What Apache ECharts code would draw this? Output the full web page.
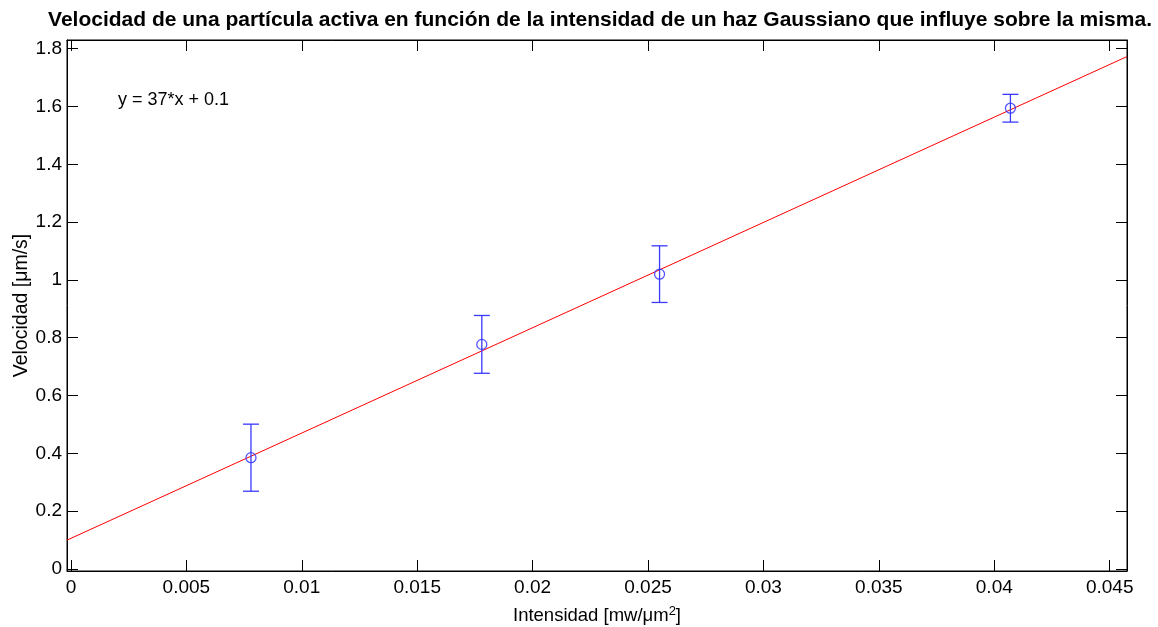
<!DOCTYPE html>
<html><head><meta charset="utf-8">
<script src="https://cdn.jsdelivr.net/npm/echarts@6/dist/echarts.min.js"></script>
<style>html,body{margin:0;padding:0;background:#fff}#c{width:1158px;height:627px}</style>
</head><body><div id="c"></div>
<script>
// Data
const intensidad = [0.0078, 0.0178, 0.0255, 0.0407];
const velocidad = [0.385, 0.777, 1.020, 1.594];
const errorV = [0.116, 0.100, 0.098, 0.048];
const fitSlope = 36.43;
const fitIntercept = 0.106;
const xRange = [-0.00017, 0.04575];
const yRange = [-0.007, 1.83];
const xTicks = [0, 0.005, 0.01, 0.015, 0.02, 0.025, 0.03, 0.035, 0.04, 0.045];
const yTicks = [0, 0.2, 0.4, 0.6, 0.8, 1, 1.2, 1.4, 1.6, 1.8];
const titleText = 'Velocidad de una partícula activa en función de la intensidad de un haz Gaussiano que influye sobre la misma.';
const fitLabel = 'y = 37*x + 0.1';

const FONT = '"Liberation Sans", Arial, sans-serif';
const fmt = v => String(+(+v).toFixed(4));

const points = intensidad.map((x, i) => [x, velocidad[i]]);
const errData = intensidad.map((x, i) => [x, velocidad[i] - errorV[i], velocidad[i] + errorV[i]]);
const fitData = xRange.map(x => [x, fitSlope * x + fitIntercept]);

const chart = echarts.init(document.getElementById('c'), null, {renderer: 'canvas'});
const axisCommon = {
  type: 'value',
  axisLine: {show: true, onZero: false, lineStyle: {color: '#000', width: 1}},
  splitLine: {show: false},
};
chart.setOption({
  animation: false,
  backgroundColor: '#fff',
  title: {
    text: titleText, left: 595, textAlign: 'center', top: 5,
    textStyle: {fontFamily: FONT, fontSize: 21, fontWeight: 'bold', color: '#000'}
  },
  grid: {left: 67, right: 31, top: 40, bottom: 56, show: true, borderColor: '#000', borderWidth: 1,
    backgroundColor: '#fff', containLabel: false, outerBoundsMode: 'none'},
  xAxis: [
    Object.assign({}, axisCommon, {
      position: 'bottom', min: xRange[0], max: xRange[1],
      name: 'Intensidad [mw/μm{sup|2}]', nameLocation: 'middle', nameGap: 34,
      nameTextStyle: {fontFamily: FONT, fontSize: 18.5, color: '#000', verticalAlign: 'top',
        rich: {sup: {fontFamily: FONT, fontSize: 13, verticalAlign: 'bottom', padding: [0, 0, 9, 0], color: '#000'}}},
      axisTick: {show: true, inside: true, length: 11, customValues: xTicks, lineStyle: {color: '#000'}},
      axisLabel: {show: true, customValues: xTicks, formatter: fmt, margin: 7, fontFamily: FONT, fontSize: 19, color: '#000'}
    }),
    Object.assign({}, axisCommon, {
      position: 'top', min: xRange[0], max: xRange[1],
      axisTick: {show: true, inside: true, length: 11, customValues: xTicks, lineStyle: {color: '#000'}},
      axisLabel: {show: false}
    })
  ],
  yAxis: [
    Object.assign({}, axisCommon, {
      position: 'left', min: yRange[0], max: yRange[1],
      name: 'Velocidad [μm/s]', nameLocation: 'middle', nameGap: 35, nameMoveOverlap: false,
      nameTextStyle: {fontFamily: FONT, fontSize: 19.5, color: '#000'},
      axisTick: {show: true, inside: true, length: 11, customValues: yTicks, lineStyle: {color: '#000'}},
      axisLabel: {show: true, customValues: yTicks, formatter: fmt, margin: 5, fontFamily: FONT, fontSize: 19, color: '#000'}
    }),
    Object.assign({}, axisCommon, {
      position: 'right', min: yRange[0], max: yRange[1],
      axisTick: {show: true, inside: true, length: 11, customValues: yTicks, lineStyle: {color: '#000'}},
      axisLabel: {show: false}
    })
  ],
  series: [
    {
      type: 'line', data: fitData, showSymbol: false, symbol: 'none',
      lineStyle: {color: '#ff0000', width: 1}, z: 3, silent: true
    },
    {
      type: 'custom', data: errData, z: 4, silent: true,
      renderItem: function (params, api) {
        const x = api.value(0);
        const lo = api.coord([x, api.value(1)]);
        const hi = api.coord([x, api.value(2)]);
        const hw = 8;
        const style = {stroke: '#3a3aff', lineWidth: 1.3};
        return {type: 'group', children: [
          {type: 'line', shape: {x1: lo[0], y1: lo[1], x2: hi[0], y2: hi[1]}, style: style},
          {type: 'line', shape: {x1: lo[0] - hw, y1: lo[1], x2: lo[0] + hw, y2: lo[1]}, style: style},
          {type: 'line', shape: {x1: hi[0] - hw, y1: hi[1], x2: hi[0] + hw, y2: hi[1]}, style: style}
        ]};
      }
    },
    {
      type: 'scatter', data: points, symbol: 'circle', symbolSize: 10, z: 5,
      itemStyle: {color: 'rgba(0,0,0,0)', borderColor: '#2a2aff', borderWidth: 1.3}
    }
  ],
  graphic: [
    {type: 'text', left: 118, top: 91, style: {text: fitLabel, fontFamily: FONT, fontSize: 18, fill: '#000'}}
  ]
});
</script></body></html>
